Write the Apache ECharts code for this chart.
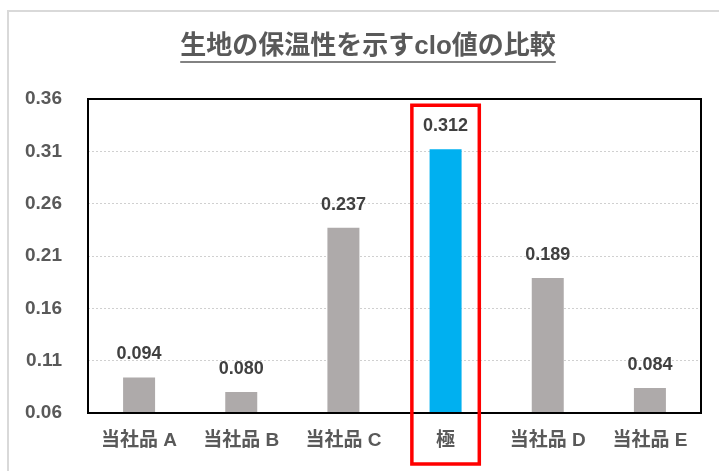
<!DOCTYPE html>
<html>
<head>
<meta charset="utf-8">
<script src="https://cdn.jsdelivr.net/npm/echarts@6/dist/echarts.min.js"></script>
<style>html,body{margin:0;padding:0;background:#fff;}#c{width:719px;height:471px;}</style>
</head>
<body>
<div id="c"></div>
<script>
const titleText = '生地の保温性を示すclo値の比較';
const categories = ['当社品 A', '当社品 B', '当社品 C', '極', '当社品 D', '当社品 E'];
const values = [0.094, 0.080, 0.237, 0.312, 0.189, 0.084];
const highlightCategory = '極';
const yMin = 0.06, yMax = 0.36, yStep = 0.05;

const FONT = '"Liberation Sans", "Noto Sans CJK JP", sans-serif';
const chart = echarts.init(document.getElementById('c'), null, {renderer: 'canvas'});

const titleFontSize = 26;
const cv = document.createElement('canvas').getContext('2d');
cv.font = 'bold ' + titleFontSize + 'px ' + FONT;
const titleW = cv.measureText(titleText).width;
const titleCx = 368, titleCy = 47;

const option = {
  animation: false,
  backgroundColor: '#fff',
  grid: {left: 88, right: 18, top: 99, bottom: 58, containLabel: false},
  xAxis: {
    type: 'category',
    data: categories,
    axisTick: {show: false},
    axisLine: {show: false},
    axisLabel: {color: '#595959', fontSize: 19, fontWeight: 'bold', fontFamily: FONT, margin: 18}
  },
  yAxis: {
    type: 'value',
    min: yMin, max: yMax, interval: yStep,
    axisLine: {show: false},
    axisTick: {show: false},
    axisLabel: {color: '#595959', fontSize: 19, fontWeight: 'bold', fontFamily: FONT, margin: 26,
      formatter: v => v.toFixed(2)},
    splitLine: {show: true, lineStyle: {color: '#d0d0d0', type: [2, 2], width: 1}}
  },
  series: [{
    type: 'bar',
    barWidth: 32,
    data: values.map((v, i) => ({
      value: v,
      itemStyle: {color: categories[i] === highlightCategory ? '#00B0F0' : '#AEAAAA'}
    })),
    label: {show: true, position: 'top', distance: 14, color: '#404040', fontSize: 18, fontWeight: 'bold',
      fontFamily: FONT, formatter: p => p.value.toFixed(3)}
  }]
};
chart.setOption(option);

const gridRect = chart.getModel().getComponent('grid').coordinateSystem.getRect();
const hiIdx = categories.indexOf(highlightCategory);
const hiX = chart.convertToPixel({xAxisIndex: 0}, hiIdx);
const hiTop = chart.convertToPixel({yAxisIndex: 0}, values[hiIdx]);
const bandW = gridRect.width / categories.length;

chart.setOption({
  graphic: [
    {type: 'rect', shape: {x: 8, y: 11, width: 760, height: 520}, style: {fill: null, stroke: '#d9d9d9', lineWidth: 2}, silent: true},
    {type: 'text', x: titleCx, y: titleCy, style: {text: titleText, font: 'bold ' + titleFontSize + 'px ' + FONT, fill: '#595959', align: 'center', verticalAlign: 'middle'}},
    {type: 'line', shape: {x1: titleCx - titleW / 2, y1: titleCy + 15, x2: titleCx + titleW / 2, y2: titleCy + 15}, style: {stroke: '#595959', lineWidth: 1.5}},
    {type: 'rect', z: 10, shape: {x: gridRect.x, y: gridRect.y, width: gridRect.width, height: gridRect.height}, style: {fill: null, stroke: '#000', lineWidth: 2}},
    {type: 'rect', z: 11, shape: {x: hiX - bandW * 0.33, y: hiTop - 44, width: bandW * 0.66, height: gridRect.y + gridRect.height - hiTop + 44 + 51}, style: {fill: null, stroke: '#FF0000', lineWidth: 3.5}}
  ]
});
</script>
</body>
</html>
